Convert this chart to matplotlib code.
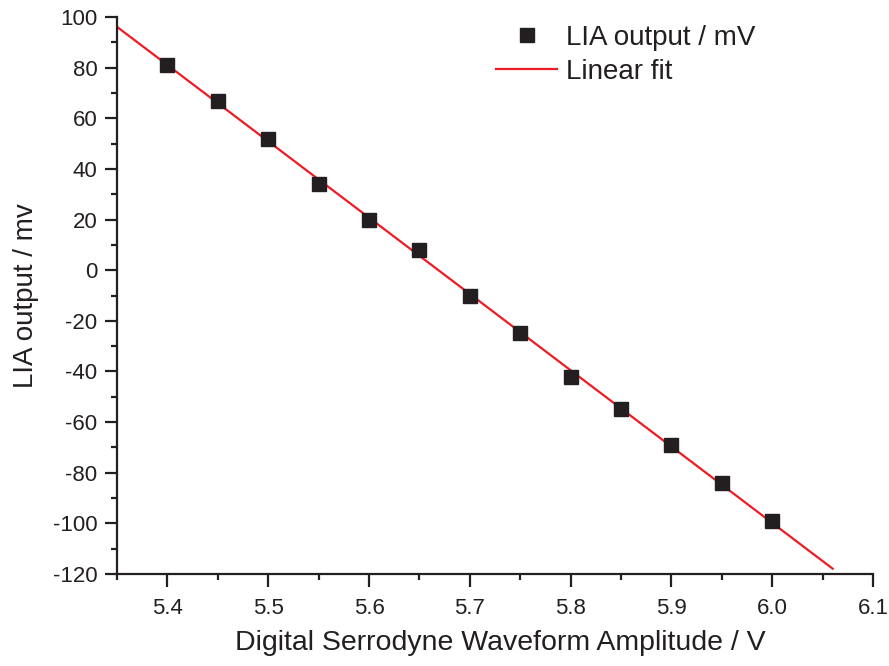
import numpy as np
import matplotlib
matplotlib.use("Agg")
import matplotlib.pyplot as plt
from matplotlib.ticker import MultipleLocator, FormatStrFormatter

plt.rcParams['font.family'] = ['Liberation Sans', 'DejaVu Sans']
plt.rcParams['axes.unicode_minus'] = False

# Measured LIA output versus serrodyne waveform amplitude
amplitude_v = [5.40, 5.45, 5.50, 5.55, 5.60, 5.65, 5.70, 5.75, 5.80, 5.85, 5.90, 5.95, 6.00]
lia_output_mv = [81, 67, 52, 34, 20, 8, -10, -25, -42, -55, -69, -84, -99]

# Span over which the fitted line is drawn
fit_span = [5.35, 6.06]

slope, intercept = np.polyfit(amplitude_v, lia_output_mv, 1)
fit_x = np.array(fit_span)
fit_y = slope * fit_x + intercept

ink = '#231f20'
red = '#ed1c24'

fig = plt.figure(figsize=(8.89, 6.66), dpi=100)
ax = fig.add_axes([117 / 889, 1 - 574 / 666, (873 - 117) / 889, (574 - 17) / 666])

ax.plot(fit_x, fit_y, color=red, lw=1.6, label='Linear fit', zorder=2)
ax.plot(amplitude_v, lia_output_mv, ls='none', marker='s', ms=10.5, color=ink,
        mec=ink, label='LIA output / mV', zorder=3)

ax.set_xlim(5.35, 6.1)
ax.set_ylim(-120, 100)
ax.xaxis.set_major_locator(MultipleLocator(0.1))
ax.xaxis.set_minor_locator(MultipleLocator(0.05))
ax.yaxis.set_major_locator(MultipleLocator(20))
ax.yaxis.set_minor_locator(MultipleLocator(10))
ax.xaxis.set_major_formatter(FormatStrFormatter('%.1f'))

for side in ('top', 'right'):
    ax.spines[side].set_visible(False)
for side in ('left', 'bottom'):
    ax.spines[side].set_linewidth(1.6)
    ax.spines[side].set_color(ink)

ax.tick_params(which='major', direction='out', length=9, width=1.6, color=ink,
               labelsize=16, labelcolor=ink)
ax.tick_params(axis='x', which='major', pad=8)
ax.tick_params(axis='y', which='major', pad=5)
ax.tick_params(which='minor', direction='out', length=4, width=1.6, color=ink)

ax.set_xlabel('Digital Serrodyne Waveform Amplitude / V', fontsize=20.5, color=ink)
ax.xaxis.set_label_coords(0.507, -0.1)
ax.set_ylabel('LIA output / mv', fontsize=20, color=ink, labelpad=10)

handles, labels = ax.get_legend_handles_labels()
leg = ax.legend(handles[::-1], labels[::-1], loc='upper left',
                bbox_to_anchor=((485 - 117) / (873 - 117), 1.006),
                frameon=False, fontsize=20, handlelength=2.2, handletextpad=0.3,
                labelspacing=0.3, borderaxespad=0)
for t in leg.get_texts():
    t.set_color(ink)

fig.savefig('out.png', dpi=100)
